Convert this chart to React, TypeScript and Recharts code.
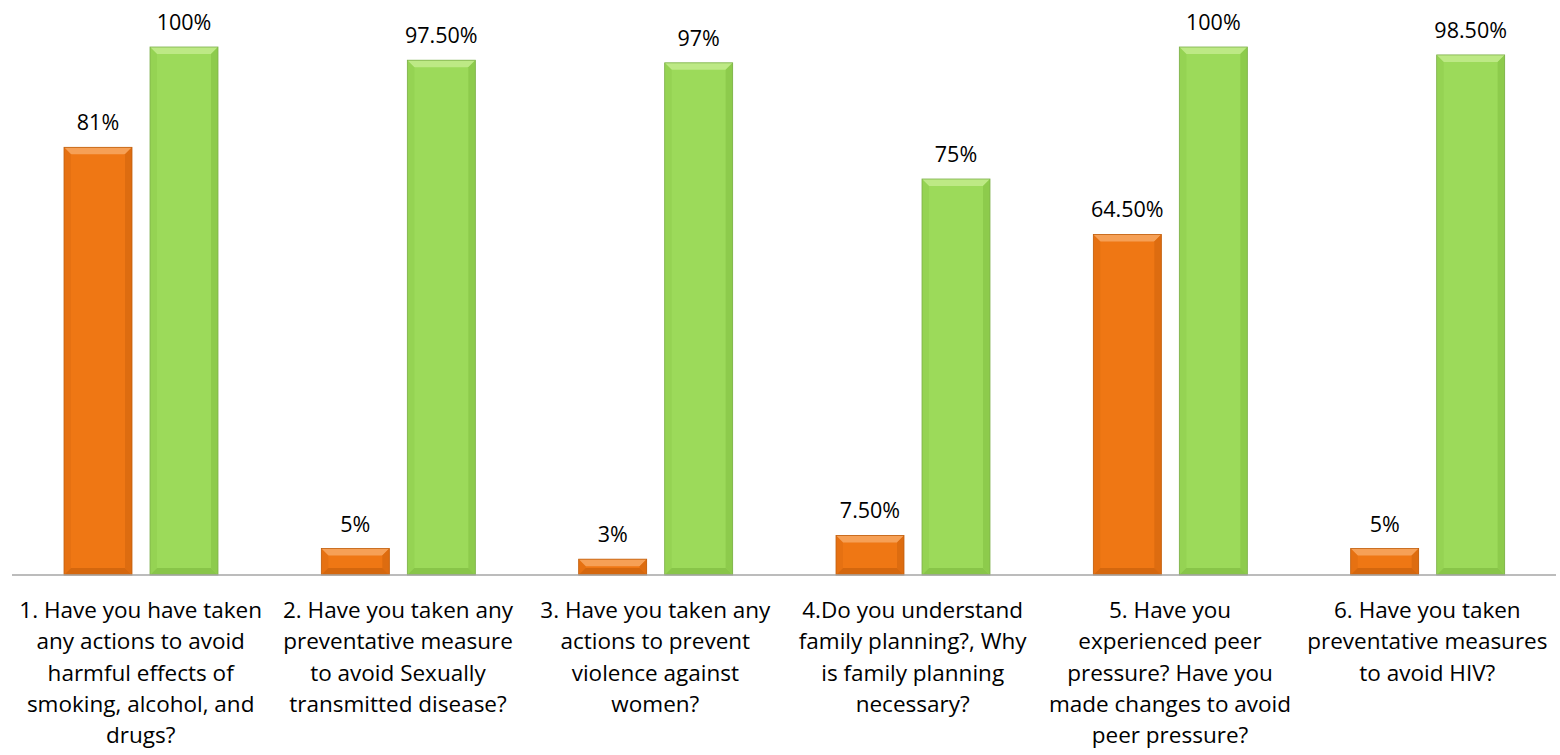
import { BarChart, Bar, XAxis, YAxis, LabelList } from "recharts";

const questions = ["q1", "q2", "q3", "q4", "q5", "q6"];
const tickLines: string[][] = [
  ["1. Have you have taken", "any actions to avoid", "harmful effects of", "smoking, alcohol, and", "drugs?"],
  ["2. Have you taken any", "preventative measure", "to avoid Sexually", "transmitted disease?"],
  ["3. Have you taken any", "actions to prevent", "violence against", "women?"],
  ["4.Do you understand", "family planning?, Why", "is family planning", "necessary?"],
  ["5. Have you", "experienced peer", "pressure? Have you", "made changes to avoid", "peer pressure?"],
  ["6. Have you taken", "preventative measures", "to avoid HIV?"],
];
const beforeValues = [81, 5, 3, 7.5, 64.5, 5];
const afterValues = [100, 97.5, 97, 75, 100, 98.5];

const data = questions.map((q, i) => ({
  q,
  idx: i,
  before: beforeValues[i],
  after: afterValues[i],
}));

const FONT = "'Open Sans', sans-serif";

const fmt = (v: any) => {
  const n = Number(v);
  return Number.isInteger(n) ? `${n}%` : `${n.toFixed(2)}%`;
};

function bevelShape(base: string, light: string, side: string, bottom: string, edge: string) {
  return (props: any) => {
    const { x, y, width, height } = props;
    if (!height || height <= 0) return <g />;
    const b = Math.min(7, height / 2);
    return (
      <g>
        <rect x={x} y={y} width={width} height={height} fill={base} />
        <polygon
          points={`${x},${y} ${x + width},${y} ${x + width - b},${y + b} ${x + b},${y + b}`}
          fill={light}
        />
        <polygon
          points={`${x},${y} ${x + b},${y + b} ${x + b},${y + height - b} ${x},${y + height}`}
          fill={side}
          opacity={0.5}
        />
        <polygon
          points={`${x + width},${y} ${x + width - b},${y + b} ${x + width - b},${y + height - b} ${x + width},${y + height}`}
          fill={side}
        />
        <polygon
          points={`${x},${y + height} ${x + b},${y + height - b} ${x + width - b},${y + height - b} ${x + width},${y + height}`}
          fill={bottom}
        />
        <rect x={x} y={y} width={width} height={height} fill="none" stroke={edge} strokeWidth={0.8} />
      </g>
    );
  };
}

const OrangeBar = bevelShape("#EF7714", "#F6A056", "#DD6C10", "#D4670E", "#C0600F");
const GreenBar = bevelShape("#9CDA5A", "#BDE985", "#8DCB4C", "#88C549", "#7DAF4A");

const Tick = (props: any) => {
  const { x, y, payload } = props;
  const lines = tickLines[payload.index] || [];
  return (
    <g transform={`translate(${x},${y})`}>
      {lines.map((l, i) => (
        <text
          key={i}
          x={0}
          y={i * 31.3 + 35}
          textAnchor="middle"
          fill="#000"
          fontSize={22.5}
          fontFamily={FONT}
        >
          {l}
        </text>
      ))}
    </g>
  );
};

export default function App() {
  return (
    <div style={{ position: "absolute", left: 0, top: 0, width: 1560, height: 755, background: "#fff" }}>
      <BarChart
        width={1560}
        height={755}
        data={data}
        margin={{ top: 47, right: 4, bottom: 0, left: 12 }}
        barSize={68}
        barGap={18}
      >
        <XAxis
          dataKey="q"
          height={180}
          interval={0}
          tickLine={false}
          axisLine={{ stroke: "#A6A6A6", strokeWidth: 1.5 }}
          tick={<Tick />}
        />
        <YAxis hide domain={[0, 100]} />
        <Bar dataKey="before" shape={OrangeBar} isAnimationActive={false}>
          <LabelList
            dataKey="before"
            position="top"
            offset={17}
            formatter={fmt}
            fill="#000"
            fontSize={21.5}
            fontFamily={FONT}
          />
        </Bar>
        <Bar dataKey="after" shape={GreenBar} isAnimationActive={false}>
          <LabelList
            dataKey="after"
            position="top"
            offset={17}
            formatter={fmt}
            fill="#000"
            fontSize={21.5}
            fontFamily={FONT}
          />
        </Bar>
      </BarChart>
    </div>
  );
}
